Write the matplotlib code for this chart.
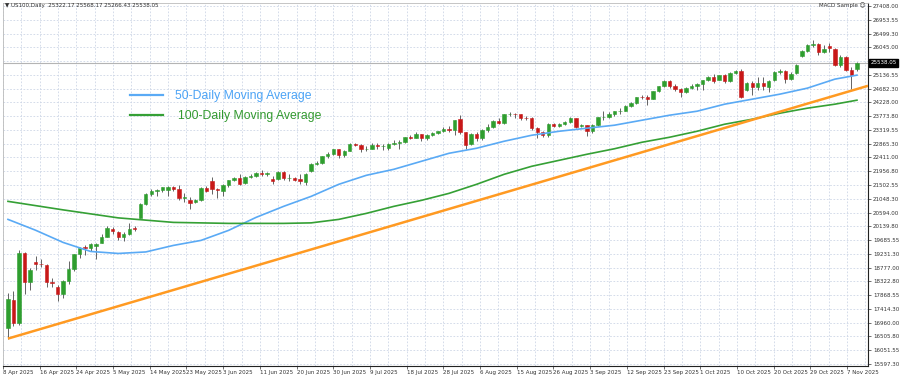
import pandas as pd
import matplotlib
matplotlib.use("Agg")
import matplotlib.pyplot as plt
from matplotlib.lines import Line2D

# daily bars, 7 Apr - 10 Nov 2025 (no Good Friday bar)
dates = [d for d in pd.bdate_range("2025-04-07", "2025-11-10") if d != pd.Timestamp("2025-04-18")]

opens = [
    # Apr
    16800, 17720, 16960, 19270, 18290, 18950, 18900, 18850, 18300, 18150, 17900, 18320, 18720, 19210, 19450, 19420, 19480,
    # May
    19600, 19800, 20060, 19960, 19800, 19880, 20080, 20430, 20870, 21200, 21320, 21340, 21350, 21450, 21370, 21080, 21000,
    20950, 21010, 21410, 21650, 21360,
    # Jun
    21300, 21490, 21660, 21720, 21560, 21780, 21800, 21910, 21860, 21700, 21700, 21920, 21720, 21720, 21700, 21600, 21950,
    22190, 22240, 22450, 22530,
    # Jul
    22680, 22480, 22640, 22870, 22820, 22690, 22700, 22830, 22780, 22720, 22860, 22880, 22930, 23080, 23060, 23180, 23060,
    23160, 23220, 23280, 23360, 23320, 23680,
    # Aug
    23240, 22860, 23180, 23040, 23320, 23420, 23630, 23550, 23840, 23850, 23830, 23720, 23710, 23380, 23250, 23140, 23500,
    23450, 23530, 23570, 23700,
    # Sep
    23450, 23470, 23300, 23480, 23740, 23760, 23850, 23930, 23950, 24110, 24210, 24400, 24390, 24340, 24590, 24760, 24930,
    24760, 24680, 24580, 24700, 24780,
    # Oct
    24840, 24960, 25050, 24980, 25120, 24920, 25210, 25260, 24650, 24860, 24730, 24880, 24720, 24960, 25230, 25260, 24990,
    25200, 25760, 25930, 26120, 26170, 25900,
    # Nov
    26100, 25980, 25470, 25720, 25300, 25322.17,
]
highs = [
    17950, 18000, 19350, 19300, 18780, 19150, 19050, 18900, 18450, 18200, 18380, 19000, 19230, 19460, 19530, 19580, 19600,
    19900, 20150, 20110, 20000, 19950, 20250, 20150, 20900, 21250, 21380, 21380, 21450, 21470, 21480, 21500, 21250, 21120,
    21050, 21450, 21480, 21750, 21420,
    21520, 21680, 21760, 21850, 21800, 21850, 21930, 22000, 21930, 21800, 21950, 21950, 21850, 21760, 21850, 21900, 22220,
    22280, 22460, 22580, 22700,
    22700, 22660, 22900, 22900, 22850, 22780, 22900, 22880, 22850, 22880, 22990, 22980, 23100, 23150, 23250, 23200, 23180,
    23250, 23290, 23400, 23450, 23660, 23800,
    23260, 23210, 23250, 23360, 23520, 23650, 23700, 23850, 23920, 23880, 23860, 23780, 23730, 23400, 23300, 23550, 23560,
    23560, 23600, 23750, 23710,
    23520, 23480, 23520, 23760, 23950, 23900, 23950, 24050, 24130, 24230, 24420, 24460, 24480, 24620, 24780, 24960, 24970,
    24840, 24700, 24720, 24830, 24860,
    24980, 25090, 25150, 25140, 25180, 25230, 25310, 25330, 24900, 24950, 25050, 25080, 24960, 25250, 25320, 25290, 25220,
    25500, 25960, 26160, 26300, 26200, 26120,
    26180, 26010, 25800, 25760, 25380, 25568.17,
]
lows = [
    16430, 16860, 16900, 17920, 18050, 18700, 18800, 18150, 18150, 17690, 17780, 18250, 18650, 19100, 19200, 19320, 19050,
    19580, 19780, 19900, 19700, 19650, 19850, 19980, 20400, 20850, 21150, 21150, 21260, 21150, 21300, 21000, 20950, 20700,
    20900, 20980, 21270, 21200, 21070,
    21150, 21430, 21640, 21500, 21540, 21720, 21750, 21800, 21790, 21550, 21680, 21680, 21650, 21620, 21550, 21500, 21930,
    22150, 22200, 22400, 22500,
    22400, 22420, 22630, 22780, 22600, 22640, 22680, 22700, 22650, 22650, 22820, 22700, 22900, 23020, 23050, 22950, 23000,
    23120, 23180, 23250, 23250, 23150, 23200,
    22700, 22830, 22950, 22980, 23250, 23380, 23500, 23500, 23780, 23700, 23650, 23640, 23330, 23050, 23080, 23100, 23420,
    23400, 23470, 23540, 23380,
    23400, 23120, 23220, 23450, 23640, 23720, 23790, 23860, 23930, 24080, 24190, 24330, 24140, 24330, 24560, 24740, 24700,
    24600, 24420, 24540, 24660, 24650,
    24650, 24920, 24880, 24960, 24880, 24900, 25150, 24380, 24600, 24480, 24650, 24650, 24560, 24940, 25150, 24880, 24960,
    25180, 25740, 25900, 26050, 25780, 25850,
    25900, 25430, 25400, 25250, 24660, 25266.43,
]
closes = [
    17750, 16940, 19270, 18290, 18700, 18900, 18880, 18300, 18270, 17900, 18320, 18720, 19210, 19430, 19420, 19550, 19570,
    19790, 20100, 19990, 19790, 19870, 20060, 20050, 20870, 21200, 21320, 21340, 21430, 21450, 21370, 21080, 21110, 20910,
    21010, 21410, 21300, 21360, 21340,
    21490, 21660, 21720, 21550, 21760, 21800, 21910, 21860, 21910, 21630, 21920, 21720, 21720, 21680, 21630, 21880, 22190,
    22240, 22450, 22530, 22680,
    22480, 22640, 22870, 22820, 22690, 22700, 22830, 22780, 22790, 22860, 22880, 22930, 23080, 23060, 23180, 23060, 23160,
    23220, 23270, 23360, 23310, 23640, 23240,
    22810, 23180, 23040, 23320, 23420, 23630, 23550, 23840, 23850, 23830, 23720, 23710, 23380, 23250, 23140, 23500, 23450,
    23530, 23570, 23700, 23410,
    23470, 23300, 23480, 23740, 23760, 23850, 23930, 23950, 24110, 24200, 24400, 24390, 24340, 24590, 24760, 24930, 24760,
    24680, 24580, 24690, 24780, 24840,
    24960, 25050, 24950, 25120, 24920, 25210, 25260, 24420, 24860, 24730, 24880, 24760, 24920, 25230, 25260, 24990, 25180,
    25470, 25930, 26120, 26170, 25900, 25990,
    26030, 25470, 25720, 25300, 25140, 25538.05,
]

# moving averages at every 5th bar
ma50_bars = [0, 5, 10, 15, 20, 25, 30, 35, 40, 45, 50, 55, 60, 65, 70, 75, 80, 85, 90, 95, 100, 105, 110, 115,
             120, 125, 130, 135, 140, 145, 150, 154]
ma50_vals = [20368, 20011, 19608, 19310, 19244, 19294, 19509, 19674, 20004, 20434, 20798, 21128, 21525, 21822,
             22021, 22285, 22549, 22715, 22946, 23144, 23276, 23376, 23475, 23640, 23805, 23937, 24169, 24334,
             24499, 24698, 24995, 25127]
ma100_bars = [0, 10, 20, 30, 40, 50, 55, 60, 65, 70, 75, 80, 85, 90, 95, 100, 105, 110, 115, 120, 125, 130, 135,
              140, 145, 150, 154]
ma100_vals = [20963, 20682, 20418, 20269, 20236, 20236, 20253, 20368, 20566, 20798, 20996, 21227, 21525, 21855,
              22120, 22318, 22516, 22698, 22913, 23078, 23276, 23508, 23673, 23871, 24037, 24169, 24301]

# rising trendline anchors (bar, price)
trend_bars = [0, 156]
trend_vals = [16435, 24775]

ytick_vals = [27408.00, 26953.55, 26499.30, 26045.00, 25590.80, 25136.55, 24682.30, 24228.00, 23773.80,
              23319.55, 22865.30, 22411.00, 21956.80, 21502.55, 21048.30, 20594.00, 20139.80, 19685.55,
              19231.30, 18777.00, 18322.80, 17868.55, 17414.30, 16960.00, 16505.80, 16051.55, 15597.30]
xtick_labels = ["8 Apr 2025", "16 Apr 2025", "24 Apr 2025", "5 May 2025", "14 May 2025", "23 May 2025",
                "3 Jun 2025", "11 Jun 2025", "20 Jun 2025", "30 Jun 2025", "9 Jul 2025", "18 Jul 2025",
                "28 Jul 2025", "6 Aug 2025", "15 Aug 2025", "26 Aug 2025", "3 Sep 2025", "12 Sep 2025",
                "23 Sep 2025", "1 Oct 2025", "10 Oct 2025", "20 Oct 2025", "29 Oct 2025", "7 Nov 2025"]

BULL = "#2f9e2f"
BEAR = "#c81818"
WICK = "#4a4a4a"
GRID = "#cdd6e6"

fig = plt.figure(figsize=(9, 3.75), dpi=100)
ax = fig.add_axes([3 / 900, 9 / 375, 865 / 900, 363 / 375])

idx = list(range(len(dates)))

# time scale labels sit at an even spacing, like the terminal draws them
x0, x1 = -0.9, 152.2
step = (x1 - x0) / (len(xtick_labels) - 1)
xt = [x0 + k * step for k in range(len(xtick_labels))]

for k in range(2 * len(xtick_labels)):
    ax.axvline(x0 + k * step / 2, color=GRID, lw=0.6, ls=(0, (2, 2)), zorder=0)
for v in ytick_vals:
    ax.axhline(v, color=GRID, lw=0.6, ls=(0, (2, 2)), zorder=0)

# bid line
ax.axhline(closes[-1], color="#b4b4b4", lw=0.8, zorder=1)

# candles
ax.vlines(idx, lows, highs, color=WICK, lw=0.6, zorder=2)
bottoms = [min(o, c) for o, c in zip(opens, closes)]
heights = [max(abs(c - o), 8) for o, c in zip(opens, closes)]
colors = [BULL if c >= o else BEAR for o, c in zip(opens, closes)]
ax.bar(idx, heights, bottom=bottoms, width=0.62, color=colors, edgecolor=colors, lw=0.4, zorder=3)

# indicators
ax.plot(ma50_bars, ma50_vals, color="#5aaaf5", lw=1.2, zorder=4)
ax.plot(ma100_bars, ma100_vals, color="#35a035", lw=1.2, zorder=4)
ax.plot(trend_bars, trend_vals, color="#ff9a22", lw=1.8, zorder=4, solid_capstyle="butt")

ax.set_xlim(-0.72, 156.0)
ax.set_ylim(15531, 27507)

ax.yaxis.tick_right()
ax.set_yticks(ytick_vals)
# the label next to the bid price box is hidden behind it on the chart
ylabels = ["" if abs(v - closes[-1]) < 150 else f"{v:.2f}" for v in ytick_vals]
ax.set_yticklabels(ylabels, fontsize=4, color="#333333")
ax.tick_params(axis="y", length=2, width=0.5, pad=1.5, color="#333333")
ax.set_xticks(xt)
ax.set_xticklabels(xtick_labels, fontsize=4, color="#333333", ha="left")
ax.tick_params(axis="x", length=2, width=0.5, pad=1, color="#333333")

for side in ["left", "top"]:
    ax.spines[side].set_color("#bbbbbb")
    ax.spines[side].set_linewidth(0.6)
for side in ["right", "bottom"]:
    ax.spines[side].set_color("#222222")
    ax.spines[side].set_linewidth(0.8)

# last price marker on the price scale
ax.text(1.003, closes[-1], f"{closes[-1]:.2f}", transform=ax.get_yaxis_transform(), fontsize=4,
        color="white", va="center", ha="left",
        bbox=dict(boxstyle="square,pad=0.25", fc="black", ec="black"))

# header texts
fig.text(5 / 900, 1 - 5 / 375, "\u25bc US100,Daily  {:.2f} {:.2f} {:.2f} {:.2f}".format(
    opens[-1], highs[-1], lows[-1], closes[-1]), fontsize=4, color="#333333", va="center")
fig.text(865 / 900, 1 - 5 / 375, "MACD Sample \u263a", fontsize=4, color="#333333", va="center", ha="right")

# legend drawn like the annotation on the chart
fig.add_artist(Line2D([130 / 900, 163 / 900], [1 - 95 / 375] * 2, color="#5aaaf5", lw=1.6))
fig.add_artist(Line2D([130 / 900, 163 / 900], [1 - 115 / 375] * 2, color="#35a035", lw=1.6))
fig.text(175 / 900, 1 - 96 / 375, "50-Daily Moving Average", fontsize=8.8, color="#4ba3f5",
         family="Liberation Sans", va="center")
fig.text(178 / 900, 1 - 116 / 375, "100-Daily Moving Average", fontsize=8.8, color="#32992f",
         family="Liberation Sans", va="center")

fig.savefig("out.png", dpi=100, facecolor="white")
